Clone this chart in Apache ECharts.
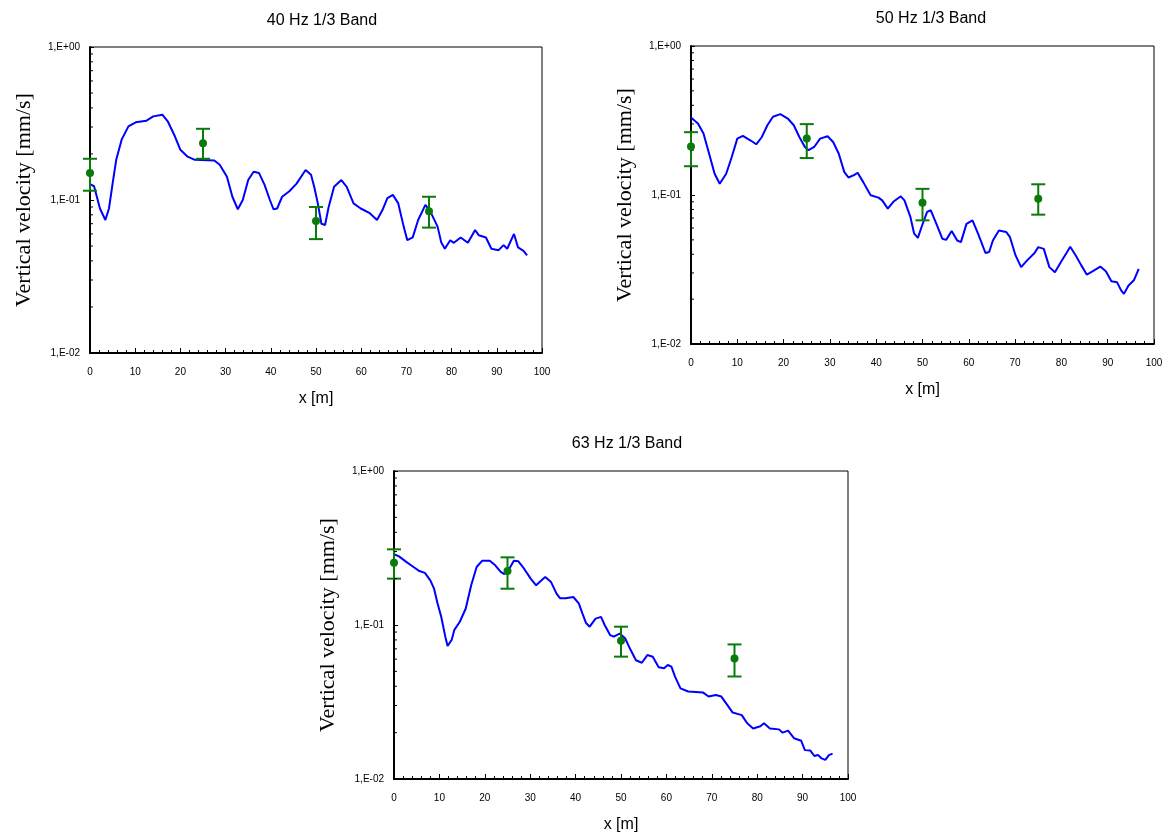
<!DOCTYPE html>
<html>
<head>
<meta charset="utf-8">
<script src="https://cdn.jsdelivr.net/npm/echarts@6/dist/echarts.min.js"></script>
<style>html,body{margin:0;padding:0;background:#fff}#c{width:1168px;height:836px}</style>
</head>
<body>
<div id="c"></div>
<script>
// ---------- Data ----------
const titles = ['40 Hz 1/3 Band', '50 Hz 1/3 Band', '63 Hz 1/3 Band'];
const yTickValues = [0.01, 0.1, 1];

// 40 Hz simulated curve
const x40 = [0,0.9,2.2,3.4,4.2,5,5.8,7,8.5,10.1,12.5,14,16,17.2,18.8,20,21.6,23.2,27.5,28.7,30.3,31.5,32.7,33.8,35,36.2,37.4,38.6,39.8,40.6,41.4,42.5,44.1,45.7,47.7,48.9,49.6,50.4,51.2,52,52.8,54,55.6,56.8,58.3,59.9,61.9,63.5,64.7,65.8,67,68.2,69.4,70.2,71.4,72.6,74.2,75.3,76.9,77.7,78.5,79.7,80.5,82,83.6,85.2,86,87.6,88.8,90.4,91.5,92.3,93.8,94.7,95.9,96.7];
const y40 = [0.127,0.123,0.088,0.074,0.088,0.128,0.183,0.248,0.303,0.322,0.33,0.352,0.361,0.327,0.26,0.213,0.192,0.183,0.181,0.17,0.142,0.105,0.087,0.1,0.135,0.153,0.15,0.126,0.1,0.087,0.088,0.105,0.114,0.128,0.157,0.146,0.122,0.095,0.07,0.0686,0.09,0.122,0.135,0.122,0.095,0.088,0.082,0.074,0.086,0.103,0.108,0.095,0.067,0.0546,0.057,0.074,0.093,0.084,0.067,0.053,0.048,0.0546,0.0525,0.0569,0.0525,0.0636,0.0589,0.0569,0.048,0.047,0.0507,0.048,0.06,0.049,0.0465,0.0435];

// 50 Hz simulated curve
const x50 = [0,1.5,2.7,3.9,5.1,6.2,7.6,8.8,10,11.2,12.8,14.1,15.3,16.5,17.7,19.3,20.9,22.2,23.4,24.6,25.4,26.6,27.9,29.5,30.7,31.9,33.1,34,35.2,36,37.2,38.8,40.5,41.3,42.5,43.7,45.3,46.1,47.4,48.2,49,49.8,51,51.8,53,54.3,55.1,56.3,57.5,58.3,59.5,60.8,62,63.6,64.4,65.2,66.5,68.1,68.9,70.1,71.3,72.6,74.2,75,76.2,77.4,78.6,79.9,81.1,81.9,83.1,84.3,85.5,86.8,88.4,89.6,90.8,92,92.9,93.5,94.5,95.7,96.7];
const y50 = [0.331,0.302,0.259,0.19,0.139,0.119,0.139,0.18,0.239,0.249,0.233,0.219,0.245,0.294,0.335,0.349,0.326,0.294,0.245,0.21,0.2,0.21,0.239,0.248,0.227,0.19,0.143,0.131,0.136,0.141,0.122,0.0995,0.096,0.092,0.081,0.09,0.098,0.092,0.071,0.055,0.0516,0.061,0.077,0.079,0.064,0.0508,0.05,0.0573,0.0495,0.0483,0.064,0.0676,0.055,0.0408,0.0414,0.0495,0.0578,0.0564,0.0521,0.0393,0.0328,0.0364,0.0408,0.0447,0.0435,0.0328,0.0303,0.0355,0.0408,0.0449,0.0393,0.0337,0.0292,0.0308,0.0331,0.0308,0.0264,0.026,0.0229,0.0217,0.0247,0.0269,0.0319];

// 63 Hz simulated curve
const x63 = [0,1.1,2.7,4.3,5.6,6.8,8,8.8,9.6,10.4,11.3,11.8,12.7,13.3,14.5,15.8,17,18.2,19.4,21.1,22.3,23.5,24.3,25.2,26.4,27.4,28.4,30.1,31.3,32.5,33.3,34.6,35.8,36.6,37.8,39.5,40.7,41.5,42.3,43.1,44.4,45.6,46.4,47.6,48.4,49.7,50.9,52.1,53.3,54.6,55.8,57,58.3,59.5,60.3,61.1,61.9,63.1,64.8,68.1,69.3,70.9,72.1,73.4,74.6,76.6,77.8,79.1,80.7,81.5,82.8,84.8,85.6,86.8,88.1,89.7,90.5,91.7,92.6,93.4,94.2,95,95.8,96.6];
const y63 = [0.288,0.279,0.257,0.238,0.224,0.218,0.195,0.173,0.138,0.113,0.084,0.073,0.08,0.093,0.105,0.128,0.181,0.238,0.261,0.261,0.244,0.221,0.214,0.227,0.261,0.259,0.238,0.2,0.181,0.195,0.205,0.19,0.16,0.149,0.149,0.152,0.138,0.119,0.103,0.0975,0.11,0.113,0.1,0.086,0.084,0.088,0.082,0.069,0.059,0.0569,0.0638,0.0622,0.0531,0.0523,0.055,0.0536,0.0462,0.0388,0.037,0.0364,0.0343,0.0351,0.0343,0.0303,0.027,0.026,0.023,0.0213,0.022,0.023,0.0213,0.021,0.02,0.0206,0.0184,0.0177,0.0154,0.0153,0.0141,0.0143,0.0136,0.0133,0.0143,0.0146];

// Measured points with error bars
const ptX = [0, 25, 50, 75];
const pt40 = [0.150, 0.235, 0.0728, 0.0843];
const lo40 = [0.115, 0.186, 0.0555, 0.066];
const hi40 = [0.186, 0.292, 0.090, 0.105];
const pt50 = [0.212, 0.239, 0.0888, 0.0944];
const lo50 = [0.156, 0.177, 0.0676, 0.0738];
const hi50 = [0.264, 0.299, 0.110, 0.118];
const pt63 = [0.254, 0.224, 0.0789, 0.0607];
const lo63 = [0.200, 0.172, 0.0623, 0.0463];
const hi63 = [0.310, 0.275, 0.0975, 0.0748];

// ---------- Build ----------
const BLUE = '#0000ff';
const GREEN = '#0a7a0a';
const grids = [
  {left: 90, top: 47, width: 452, height: 306},
  {left: 691, top: 46, width: 463, height: 298},
  {left: 394, top: 471, width: 454, height: 308}
];
const titlePos = [[322, 21], [931, 19], [627, 444]];
const curves = [[x40, y40], [x50, y50], [x63, y63]];
const points = [[pt40, lo40, hi40], [pt50, lo50, hi50], [pt63, lo63, hi63]];

const minorY = [];
[0.01, 0.1].forEach(d => { for (let k = 2; k <= 9; k++) minorY.push(+(d * k).toFixed(4)); });

function fmtE(v) {
  const e = Math.round(Math.log10(v));
  return '1,E' + (e >= 0 ? '+' : '-') + String(Math.abs(e)).padStart(2, '0');
}

const xAxes = [], yAxes = [], series = [], graphics = [];
grids.forEach((g, i) => {
  xAxes.push({
    type: 'value', gridIndex: i, min: 0, max: 100, interval: 10,
    name: 'x [m]', nameLocation: 'middle', nameGap: 38,
    nameTextStyle: {fontFamily: 'Liberation Sans', fontSize: 16, color: '#000'},
    axisLine: {show: true, onZero: false, lineStyle: {color: '#000', width: 2}},
    axisTick: {show: true, inside: true, length: 5, lineStyle: {color: '#000', width: 1}},
    minorTick: {show: true, splitNumber: 5, length: 3, lineStyle: {color: '#000', width: 1}},
    axisLabel: {fontFamily: 'Liberation Sans', fontSize: 10, color: '#000', margin: 14},
    splitLine: {show: false}
  });
  yAxes.push({
    type: 'log', logBase: 10, gridIndex: i, min: 0.01, max: 1,
    name: 'Vertical velocity [mm/s]', nameLocation: 'middle', nameGap: 55,
    nameTextStyle: {fontFamily: 'Liberation Serif', fontSize: 22, color: '#000'},
    axisLine: {show: true, lineStyle: {color: '#000', width: 2}},
    axisTick: {show: true, inside: true, length: 4, lineStyle: {color: '#000', width: 1}},
    axisLabel: {fontFamily: 'Liberation Sans', fontSize: 10, color: '#000', margin: 10, formatter: fmtE},
    splitLine: {show: false}
  });
  graphics.push({
    type: 'text', x: titlePos[i][0], y: titlePos[i][1],
    style: {text: titles[i], font: '16px "Liberation Sans"', fill: '#000', textAlign: 'center', textVerticalAlign: 'middle'}
  });
  // minor log ticks on y axis
  series.push({
    type: 'custom', xAxisIndex: i, yAxisIndex: i, silent: true, z: 5,
    data: minorY.map(v => [0, v]),
    renderItem: (params, api) => {
      const p = api.coord([api.value(0), api.value(1)]);
      return {type: 'line', shape: {x1: p[0], y1: p[1], x2: p[0] + 3, y2: p[1]}, style: {stroke: '#000', lineWidth: 1}};
    }
  });
  // curve
  const cx = curves[i][0], cy = curves[i][1];
  series.push({
    type: 'line', xAxisIndex: i, yAxisIndex: i, showSymbol: false, symbol: 'none',
    lineStyle: {color: BLUE, width: 2}, z: 3,
    data: cx.map((x, k) => [x, cy[k]])
  });
  // error bars
  const [pv, lo, hi] = points[i];
  series.push({
    type: 'custom', xAxisIndex: i, yAxisIndex: i, z: 4,
    data: ptX.map((x, k) => [x, lo[k], hi[k]]),
    encode: {x: 0, y: [1, 2]},
    renderItem: (params, api) => {
      const x = api.value(0);
      const a = api.coord([x, api.value(2)]);
      const b = api.coord([x, api.value(1)]);
      const hw = 7;
      const st = {stroke: GREEN, lineWidth: 2};
      return {type: 'group', children: [
        {type: 'line', shape: {x1: a[0], y1: a[1], x2: b[0], y2: b[1]}, style: st},
        {type: 'line', shape: {x1: a[0] - hw, y1: a[1], x2: a[0] + hw, y2: a[1]}, style: st},
        {type: 'line', shape: {x1: b[0] - hw, y1: b[1], x2: b[0] + hw, y2: b[1]}, style: st}
      ]};
    }
  });
  series.push({
    type: 'scatter', xAxisIndex: i, yAxisIndex: i, symbol: 'circle', symbolSize: 8, z: 6,
    itemStyle: {color: GREEN, opacity: 1},
    data: ptX.map((x, k) => [x, pv[k]])
  });
});

const chart = echarts.init(document.getElementById('c'), null, {renderer: 'canvas'});
chart.setOption({
  animation: false,
  backgroundColor: '#fff',
  grid: grids.map(g => Object.assign({show: true, borderColor: '#000', borderWidth: 1, backgroundColor: 'transparent'}, g)),
  xAxis: xAxes,
  yAxis: yAxes,
  graphic: graphics,
  series: series
});
</script>
</body>
</html>
